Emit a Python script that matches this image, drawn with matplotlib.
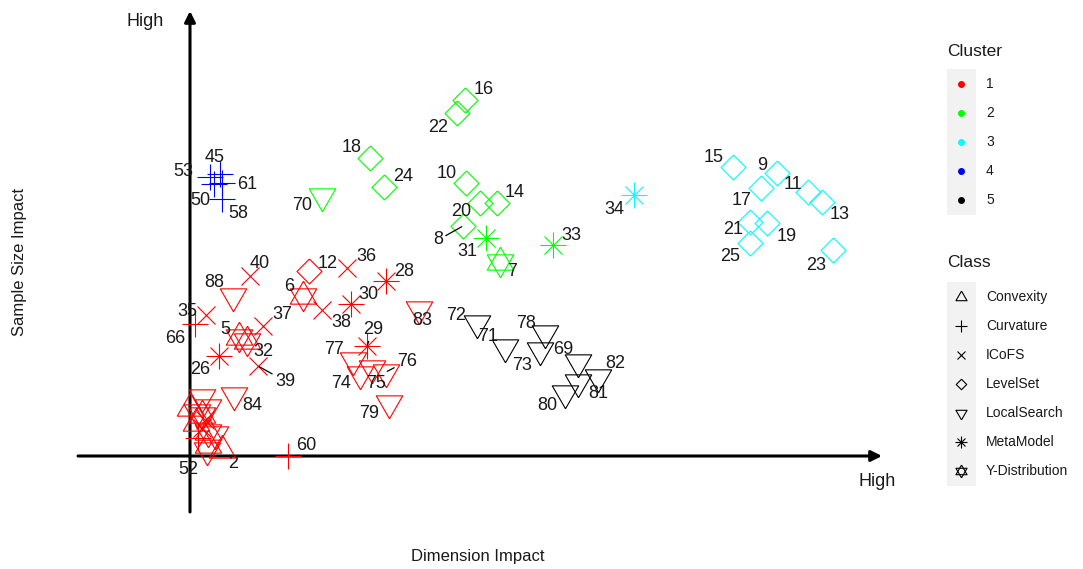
import matplotlib
matplotlib.use("Agg")
import matplotlib.pyplot as plt
from matplotlib.patches import Rectangle

plt.rcParams['font.family'] = ['Liberation Sans', 'DejaVu Sans']

# point ids, cluster membership, feature class and (dimension, sample size) impact
ids = [53, 45, 61, 50, 58,
       40, 88, 35, 66, 5, 32, 37, 26, 39, 84, 6, 12, 36, 38, 30, 28, 83, 29,
       77, 74, 75, 76, 79, 60, 52, 2,
       1, 3, 4, 27, 41, 42, 43, 44, 46, 47, 48, 49,
       16, 22, 18, 24, 70, 10, 20, 14, 8, 31, 33, 7,
       34, 15, 9, 17, 11, 13, 21, 19, 25, 23,
       72, 71, 73, 78, 69, 82, 81, 80]
cluster = [4, 4, 4, 4, 4,
           1, 1, 1, 1, 1, 1, 1, 1, 1, 1, 1, 1, 1, 1, 1, 1, 1, 1,
           1, 1, 1, 1, 1, 1, 1, 1,
           1, 1, 1, 1, 1, 1, 1, 1, 1, 1, 1, 1,
           2, 2, 2, 2, 2, 2, 2, 2, 2, 2, 2, 2,
           3, 3, 3, 3, 3, 3, 3, 3, 3, 3,
           5, 5, 5, 5, 5, 5, 5, 5]
feature_class = ["Curvature"] * 5 + [
    "ICoFS", "LocalSearch", "ICoFS", "Curvature", "Y-Distribution", "Y-Distribution",
    "ICoFS", "MetaModel", "ICoFS", "LocalSearch", "Y-Distribution", "LevelSet",
    "ICoFS", "ICoFS", "MetaModel", "MetaModel", "LocalSearch", "MetaModel",
    "LocalSearch", "LocalSearch", "LocalSearch", "LocalSearch", "LocalSearch",
    "Curvature", "LocalSearch", "Convexity",
    "LocalSearch", "Convexity", "LocalSearch", "Y-Distribution", "ICoFS", "Convexity",
    "ICoFS", "Y-Distribution", "LocalSearch", "Curvature", "Convexity", "LocalSearch",
    "LevelSet", "LevelSet", "LevelSet", "LevelSet", "LocalSearch", "LevelSet",
    "LevelSet", "LevelSet", "LevelSet", "MetaModel", "MetaModel", "Y-Distribution",
    "MetaModel"] + ["LevelSet"] * 9 + ["LocalSearch"] * 8
dim_impact = [0.20, 0.30, 0.32, 0.24, 0.32,
              0.60, 0.43, 0.16, 0.05, 0.49, 0.57, 0.73, 0.29, 0.68, 0.44, 1.13, 1.19,
              1.57, 1.32, 1.61, 1.96, 2.29, 1.77,
              1.63, 1.70, 1.82, 1.96, 1.99, 0.98, 0.17, 0.32,
              0.12, 0.00, 0.18, 0.12, 0.15, 0.06, 0.12, 0.18, 0.25, 0.08, 0.18, 0.07,
              2.75, 2.67, 1.80, 1.94, 1.32, 2.76, 2.90, 3.07, 2.73, 2.96, 3.63, 3.10,
              4.44, 5.43, 5.87, 5.71, 6.18, 6.32, 5.60, 5.77, 5.60, 6.43,
              2.87, 3.15, 3.50, 3.55, 3.88, 4.08, 3.88, 3.75]
size_impact = [2.79, 2.82, 2.73, 2.72, 2.57,
               1.80, 1.60, 1.41, 1.32, 1.19, 1.15, 1.30, 1.00, 0.90, 0.61, 1.60, 1.85,
               1.88, 1.46, 1.52, 1.75, 1.47, 1.10,
               0.96, 0.82, 0.88, 0.84, 0.53, 0.00, 0.06, 0.06,
               0.59, 0.48, 0.49, 0.41, 0.36, 0.33, 0.28, 0.24, 0.22, 0.18, 0.11, 0.44,
               3.56, 3.43, 2.98, 2.69, 2.60, 2.73, 2.53, 2.53, 2.30, 2.18, 2.11, 1.94,
               2.61, 2.89, 2.83, 2.68, 2.64, 2.54, 2.34, 2.33, 2.13, 2.06,
               1.33, 1.09, 1.06, 1.23, 0.94, 0.79, 0.74, 0.63]

# label placement in pixels (right, down) from the point; ids not listed stay unlabeled
label_offset = {
    53: (-27, -5), 45: (-5, -17), 61: (25, 2), 50: (-14, 17), 58: (16, 14),
    40: (10, -12), 88: (-19, -13), 35: (-19, -4), 66: (-20, 15), 5: (-14, -7),
    32: (16, 11), 37: (19, -11), 26: (-19, 13), 39: (27, 15), 84: (18, 11),
    6: (-14, -9), 12: (19, -7), 36: (19, -11), 38: (19, 13), 30: (17, -9),
    28: (18, -9), 83: (3, 12), 29: (6, -16), 77: (-19, -11), 74: (-19, 9),
    75: (4, 15), 76: (21, -11), 79: (-20, 11), 60: (18, -11), 52: (-19, 19),
    2: (11, 13),
    16: (19, -10), 22: (-19, 15), 18: (-18, -10), 24: (19, -10), 70: (-20, 10),
    10: (-19, -9), 20: (-19, 9), 14: (18, -10), 8: (-25, 14), 31: (-19, 14),
    33: (18, -9), 7: (12, 10),
    34: (-20, 15), 15: (-19, -9), 9: (-15, -7), 17: (-19, 13), 11: (-15, -7),
    13: (18, 13), 21: (-17, 8), 19: (20, 14), 25: (-20, 14), 23: (-17, 16),
    72: (-21, -7), 71: (-17, -10), 73: (-18, 15), 78: (-19, -9), 69: (-15, -12),
    82: (17, -14), 81: (20, 11), 80: (-18, 12),
}
leader_ids = {39, 76, 8, 29}

cluster_colors = {1: "#FF0000", 2: "#00FF00", 3: "#00FFFF", 4: "#0000FF", 5: "#000000"}
class_names = ["Convexity", "Curvature", "ICoFS", "LevelSet", "LocalSearch",
               "MetaModel", "Y-Distribution"]

tri_up = [(0, 1), (-0.866, -0.5), (0.866, -0.5), (0, 1)]
tri_down = [(0, -1), (-0.866, 0.5), (0.866, 0.5), (0, -1)]
diamond = [(0, 1), (1, 0), (0, -1), (-1, 0), (0, 1)]

# each class is drawn as one or more overlaid hollow glyphs: (marker, size in pt)
glyphs = {
    "Convexity": [(tri_up, 22)],
    "Curvature": [("+", 19)],
    "ICoFS": [("x", 13.5)],
    "LevelSet": [(diamond, 18)],
    "LocalSearch": [(tri_down, 22)],
    "MetaModel": [("+", 19), ("x", 13.5)],
    "Y-Distribution": [(tri_up, 22), (tri_down, 22)],
}

fig = plt.figure(figsize=(10.83, 5.69), dpi=100)
W, H = 1083, 569
ax = fig.add_axes([60 / W, (H - 520) / H, 840 / W, 515 / H])
ax.set_xlim(-1.30, 7.10)
ax.set_ylim(-0.64, 4.51)
ax.axis("off")

# axes drawn as arrows through the origin
ax.annotate("", xy=(6.92, 0), xytext=(-1.12, 0),
            arrowprops=dict(arrowstyle="-|>", lw=2.2, color="black", mutation_scale=16,
                            shrinkA=0, shrinkB=0))
ax.annotate("", xy=(0, 4.45), xytext=(0, -0.56),
            arrowprops=dict(arrowstyle="-|>", lw=2.2, color="black", mutation_scale=16,
                            shrinkA=0, shrinkB=0))
ax.text(-0.45, 4.34, "High", fontsize=13, ha="center", va="center", color="#1a1a1a")
ax.text(6.87, -0.25, "High", fontsize=13, ha="center", va="center", color="#1a1a1a")

for pid, cl, fc, x, y in zip(ids, cluster, feature_class, dim_impact, size_impact):
    col = cluster_colors[cl]
    for mk, ms in glyphs[fc]:
        ax.plot(x, y, marker=mk, ms=ms, mfc="none", mec=col, mew=0.8, ls="none", zorder=3)
    if pid in label_offset:
        dx, dy = label_offset[pid]
        props = None
        if pid in leader_ids:
            props = dict(arrowstyle="-", color="black", lw=0.9, shrinkA=0, shrinkB=1)
        ax.annotate(str(pid), (x, y), xytext=(dx, -dy), textcoords="offset pixels",
                    ha="center", va="center", fontsize=13, color="#1a1a1a",
                    arrowprops=props, zorder=4)

fig.text(20 / W, 1 - 262 / H, "Sample Size Impact", rotation=90, fontsize=12,
         ha="center", va="center", color="#1a1a1a")
fig.text(478 / W, 1 - 557 / H, "Dimension Impact", fontsize=12,
         ha="center", va="center", color="#1a1a1a")

# legends, laid out in pixel coordinates
leg = fig.add_axes([0, 0, 1, 1], facecolor="none")
leg.set_xlim(0, W)
leg.set_ylim(H, 0)
leg.axis("off")

leg.text(947, 51, "Cluster", fontsize=12.5, ha="left", va="center", color="#1a1a1a")
leg.add_patch(Rectangle((947, 69), 29, 146, facecolor="#F2F2F2", edgecolor="none"))
for i, cl in enumerate(sorted(cluster_colors)):
    yy = 84 + 29 * i
    leg.plot(961, yy, "o", ms=4, color=cluster_colors[cl])
    leg.text(986, yy, str(cl), fontsize=10, ha="left", va="center", color="#1a1a1a")

leg.text(947, 262, "Class", fontsize=12.5, ha="left", va="center", color="#1a1a1a")
leg.add_patch(Rectangle((947, 282), 29, 204, facecolor="#F2F2F2", edgecolor="none"))
for i, name in enumerate(class_names):
    yy = 297 + 29 * i
    for mk, ms in glyphs[name]:
        leg.plot(961, yy, marker=mk, ms=ms * 0.42, mfc="none", mec="black", mew=0.8)
    leg.text(986, yy, name, fontsize=10, ha="left", va="center", color="#1a1a1a")

fig.savefig("out.png", dpi=100, facecolor="white")
